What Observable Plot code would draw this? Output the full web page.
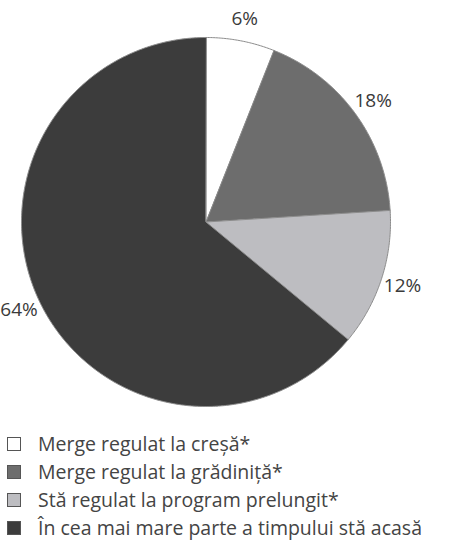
<!DOCTYPE html>
<html>
<head>
<meta charset="utf-8">
<script src="https://cdn.jsdelivr.net/npm/d3@7"></script>
<script src="https://cdn.jsdelivr.net/npm/@observablehq/plot@0.6"></script>
<style>
  html, body { margin: 0; padding: 0; background: #fff; }
  body { width: 450px; height: 543px; overflow: hidden; font-family: "Open Sans", Lato, sans-serif; }
  #chart svg { display: block; }
  #legend { margin-top: 10px; }
  .row { display: flex; align-items: center; height: 28px; line-height: 24px; white-space: nowrap; font-size: 19.5px; color: #444; }
  .sw { width: 12px; height: 12px; margin-left: 7px; margin-right: 17px; border: 1.5px solid #555; box-sizing: content-box; }
</style>
</head>
<body>
<div id="chart"></div>
<div id="legend"></div>
<script>
// Data
const categories = [
  "Merge regulat la creșă*",
  "Merge regulat la grădiniță*",
  "Stă regulat la program prelungit*",
  "În cea mai mare parte a timpului stă acasă"
];
const values = [6, 18, 12, 64];
const valueLabels = ["6%", "18%", "12%", "64%"];

// Styles
const sliceColors = ["#ffffff", "#6d6d6d", "#bdbdc1", "#3c3c3c"];

const arcs = d3.pie().sort(null).value(d => d)(values);

// Slice polygons (unit circle, y up), built from the pie angles
const points = [];
arcs.forEach((a, i) => {
  const cat = categories[i];
  points.push({cat, x: 0, y: 0});
  const n = Math.max(2, Math.ceil((a.endAngle - a.startAngle) / (Math.PI / 360)));
  for (let k = 0; k <= n; k++) {
    const t = a.startAngle + (a.endAngle - a.startAngle) * k / n;
    points.push({cat, x: Math.sin(t), y: Math.cos(t)});
  }
});

// Label positions at mid-angle, just outside the pie
const labelR = 1.12;
const labels = arcs.map((a, i) => {
  const t = (a.startAngle + a.endAngle) / 2;
  return {x: labelR * Math.sin(t), y: labelR * Math.cos(t), text: valueLabels[i]};
});

const chart = Plot.plot({
  width: 450,
  height: 420,
  marginLeft: 21,
  marginRight: 60,
  marginTop: 37,
  marginBottom: 14,
  x: {domain: [-1, 1], axis: null},
  y: {domain: [-1, 1], axis: null},
  color: {domain: categories, range: sliceColors},
  style: {fontFamily: "'Open Sans', Lato, sans-serif", background: "#fff"},
  marks: [
    Plot.line(points, {x: "x", y: "y", z: "cat", fill: "cat", stroke: "#8c8c8c", strokeWidth: 1, curve: "linear-closed"}),
    Plot.text(labels, {x: "x", y: "y", text: "text", fontSize: 19, fill: "#3a3a3a"})
  ]
});
document.getElementById("chart").appendChild(chart);

// Legend
const legend = document.getElementById("legend");
categories.forEach((c, i) => {
  const row = document.createElement("div");
  row.className = "row";
  const sw = document.createElement("span");
  sw.className = "sw";
  sw.style.background = chart.scale("color").apply(c);
  const tx = document.createElement("span");
  tx.textContent = c;
  row.appendChild(sw);
  row.appendChild(tx);
  legend.appendChild(row);
});
</script>
</body>
</html>
